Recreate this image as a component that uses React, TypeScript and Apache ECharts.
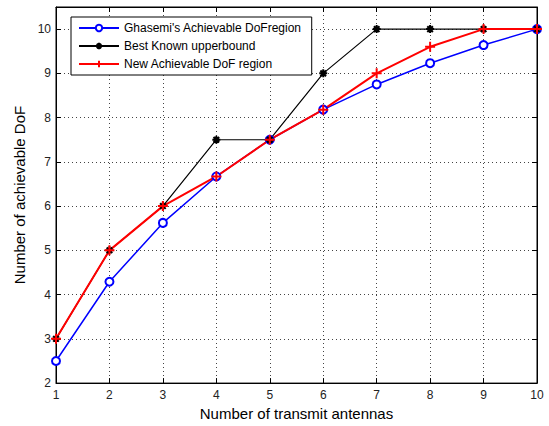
import React, { useEffect, useRef } from "react";
import * as echarts from "echarts";

const antennas = [1, 2, 3, 4, 5, 6, 7, 8, 9, 10];
const ghasemi = [2.5, 4.29, 5.62, 6.67, 7.5, 8.18, 8.75, 9.23, 9.64, 10];
const upperBound = [3, 5, 6, 7.5, 7.5, 9, 10, 10, 10, 10];
const newRegion = [3, 5, 6, 6.67, 7.5, 8.18, 9, 9.6, 10, 10];
const yTicksMin = 2;
const yTicksMax = 10.5;

const FONT = "Arial, 'Liberation Sans', sans-serif";
const PLUS = "path://M5,0L5,10M0,5L10,5";
const STAR = "path://M5,0L5,10M0,5L10,5M1.5,1.5L8.5,8.5M8.5,1.5L1.5,8.5";

export default function App() {
  const ref = useRef<HTMLDivElement>(null);
  useEffect(() => {
    document.body.style.margin = "0";
    const chart = echarts.init(ref.current!, null, { renderer: "svg" });
    const pair = (ys: number[]) => antennas.map((x, i) => [x, ys[i]]);
    const gridLine = { show: true, lineStyle: { color: "#444", type: [1, 3], width: 1 } };
    const tick = { show: true, inside: true, length: 5, lineStyle: { color: "#000", width: 1 } };
    chart.setOption({
      animation: false,
      backgroundColor: "#fff",
      grid: {
        left: 56,
        top: 7,
        width: 481,
        height: 378,
        show: true,
        borderColor: "#000",
        borderWidth: 1,
        backgroundColor: "#fff",
      },
      legend: {
        orient: "vertical",
        left: 71,
        top: 17,
        width: 240,
        padding: [5, 10, 5, 7],
        itemGap: 6,
        itemWidth: 40,
        itemHeight: 8,
        backgroundColor: "#fff",
        borderColor: "#000",
        borderWidth: 1,
        borderRadius: 0,
        textStyle: { fontFamily: FONT, fontSize: 12, color: "#000" },
        data: [
          "Ghasemi's Achievable DoFregion",
          "Best Known upperbound",
          "New Achievable DoF region",
        ],
      },
      xAxis: [
        {
          type: "value",
          min: 1,
          max: 10,
          interval: 1,
          name: "Number of transmit antennas",
          nameLocation: "middle",
          nameGap: 22,
          nameTextStyle: { fontFamily: FONT, fontSize: 15, color: "#000" },
          axisLine: { show: true, lineStyle: { color: "#000" } },
          axisTick: tick,
          axisLabel: { fontFamily: FONT, fontSize: 12, color: "#222", margin: 6 },
          splitLine: gridLine,
        },
        {
          type: "value",
          position: "top",
          min: 1,
          max: 10,
          interval: 1,
          axisLine: { show: true, lineStyle: { color: "#000" } },
          axisTick: tick,
          axisLabel: { show: false },
          splitLine: { show: false },
        },
      ],
      yAxis: [
        {
          type: "value",
          min: yTicksMin,
          max: yTicksMax,
          interval: 1,
          name: "Number of achievable DoF",
          nameLocation: "middle",
          nameGap: 23,
          nameTextStyle: { fontFamily: FONT, fontSize: 15, color: "#000" },
          axisLine: { show: true, lineStyle: { color: "#000" } },
          axisTick: tick,
          axisLabel: {
            fontFamily: FONT,
            fontSize: 12,
            color: "#222",
            margin: 5,
            formatter: (v: number) => (Number.isInteger(v) ? String(v) : ""),
          },
          splitLine: gridLine,
        },
        {
          type: "value",
          position: "right",
          min: yTicksMin,
          max: yTicksMax,
          interval: 1,
          axisLine: { show: true, lineStyle: { color: "#000" } },
          axisTick: tick,
          axisLabel: { show: false },
          splitLine: { show: false },
        },
      ],
      series: [
        {
          name: "Ghasemi's Achievable DoFregion",
          type: "line",
          data: pair(ghasemi),
          symbol: "emptyCircle",
          symbolSize: 8,
          lineStyle: { color: "#0000ff", width: 1.5 },
          itemStyle: { color: "#0000ff", borderColor: "#0000ff", borderWidth: 1.5 },
        },
        {
          name: "Best Known upperbound",
          type: "line",
          data: pair(upperBound),
          symbol: STAR,
          symbolSize: 8,
          lineStyle: { color: "#000", width: 1.2 },
          itemStyle: { color: "#000", borderColor: "#000", borderWidth: 2 },
        },
        {
          name: "New Achievable DoF region",
          type: "line",
          data: pair(newRegion),
          symbol: PLUS,
          symbolSize: 10,
          lineStyle: { color: "#ff0000", width: 2 },
          itemStyle: { color: "#ff0000", borderColor: "#ff0000", borderWidth: 2 },
        },
      ],
    });
    return () => chart.dispose();
  }, []);
  return <div ref={ref} style={{ width: 549, height: 426 }} />;
}
